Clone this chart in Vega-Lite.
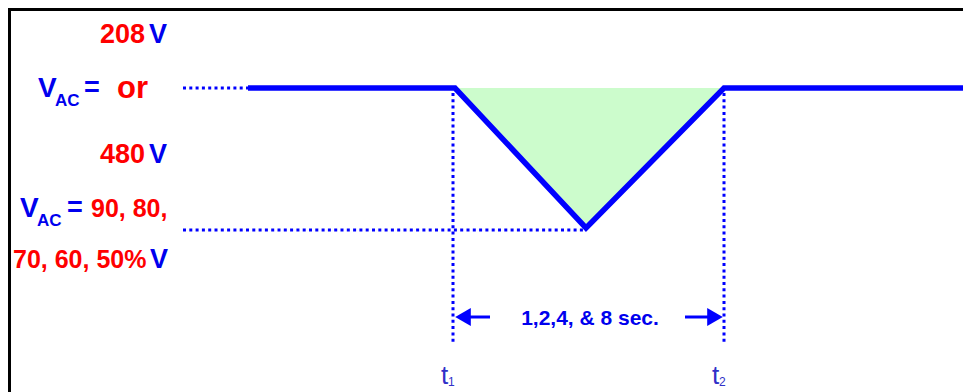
{
  "$schema": "https://vega.github.io/schema/vega-lite/v6.json",
  "width": 963,
  "height": 392,
  "padding": 0,
  "autosize": {"type": "none"},
  "config": {"view": {"stroke": null}},
  "datasets": {
    "frame": [
      {"x": 8, "y": 9.5, "x2": 963, "y2": 9.5},
      {"x": 9.5, "y": 8, "x2": 9.5, "y2": 392}
    ],
    "sag": [
      {"x": 248, "y": 88},
      {"x": 455, "y": 88},
      {"x": 586, "y": 228},
      {"x": 724, "y": 88},
      {"x": 963, "y": 88}
    ],
    "fill": [
      {"x": 455, "y": 88, "y2": 88},
      {"x": 586, "y": 228, "y2": 88},
      {"x": 724, "y": 88, "y2": 88}
    ],
    "dots": [
      {"x": 183, "y": 88, "x2": 248, "y2": 88},
      {"x": 183, "y": 230, "x2": 586, "y2": 230},
      {"x": 453, "y": 93, "x2": 453, "y2": 345},
      {"x": 724, "y": 93, "x2": 724, "y2": 345}
    ],
    "shafts": [
      {"x": 463, "y": 317, "x2": 490, "y2": 317},
      {"x": 685, "y": 317, "x2": 715, "y2": 317}
    ],
    "heads": [
      {"x": 463, "y": 317, "shape": "triangle-left"},
      {"x": 715, "y": 317, "shape": "triangle-right"}
    ],
    "labels": [
      {"x": 100, "y": 43, "t": "208", "c": "#ff0000", "s": 27},
      {"x": 149, "y": 43, "t": "V", "c": "#0000ee", "s": 27},
      {"x": 38, "y": 97, "t": "V", "c": "#0000ee", "s": 28},
      {"x": 55, "y": 106, "t": "AC", "c": "#0000ee", "s": 17},
      {"x": 84, "y": 96, "t": "=", "c": "#0000ee", "s": 27},
      {"x": 117, "y": 98, "t": "or", "c": "#ff0000", "s": 31},
      {"x": 100, "y": 163, "t": "480", "c": "#ff0000", "s": 27},
      {"x": 149, "y": 163, "t": "V", "c": "#0000ee", "s": 27},
      {"x": 20, "y": 217, "t": "V", "c": "#0000ee", "s": 28},
      {"x": 37, "y": 226, "t": "AC", "c": "#0000ee", "s": 17},
      {"x": 67, "y": 216, "t": "=", "c": "#0000ee", "s": 27},
      {"x": 91, "y": 217, "t": "90, 80,", "c": "#ff0000", "s": 25},
      {"x": 13, "y": 268, "t": "70, 60, 50%", "c": "#ff0000", "s": 25},
      {"x": 150, "y": 268, "t": "V", "c": "#0000ee", "s": 27}
    ],
    "duration": [
      {"x": 590, "y": 325, "t": "1,2,4, & 8 sec."}
    ],
    "times": [
      {"x": 441, "y": 384, "t": "t", "s": 26},
      {"x": 448, "y": 386, "t": "1", "s": 12},
      {"x": 712, "y": 384, "t": "t", "s": 26},
      {"x": 719, "y": 386, "t": "2", "s": 12}
    ]
  },
  "encoding": {
    "x": {"field": "x", "type": "quantitative", "scale": {"domain": [0, 963], "nice": false, "zero": false}, "axis": null},
    "y": {"field": "y", "type": "quantitative", "scale": {"domain": [0, 392], "nice": false, "zero": false, "reverse": true}, "axis": null}
  },
  "layer": [
    {
      "data": {"name": "fill"},
      "mark": {"type": "area", "color": "#ccfccc", "opacity": 1},
      "encoding": {"y2": {"field": "y2"}}
    },
    {
      "data": {"name": "dots"},
      "mark": {"type": "rule", "color": "#0000ff", "strokeWidth": 3, "strokeDash": [3, 3.3]},
      "encoding": {"x2": {"field": "x2"}, "y2": {"field": "y2"}}
    },
    {
      "data": {"name": "sag"},
      "mark": {"type": "line", "color": "#0000ff", "strokeWidth": 5.5, "strokeJoin": "miter"},
      "encoding": {}
    },
    {
      "data": {"name": "shafts"},
      "mark": {"type": "rule", "color": "#0000ff", "strokeWidth": 3},
      "encoding": {"x2": {"field": "x2"}, "y2": {"field": "y2"}}
    },
    {
      "data": {"name": "heads"},
      "mark": {"type": "point", "filled": true, "color": "#0000ff", "opacity": 1, "size": 324},
      "encoding": {"shape": {"field": "shape", "type": "nominal", "scale": null}}
    },
    {
      "data": {"name": "labels"},
      "mark": {"type": "text", "align": "left", "baseline": "alphabetic", "font": "Liberation Sans", "fontWeight": "bold"},
      "encoding": {
        "text": {"field": "t"},
        "color": {"field": "c", "type": "nominal", "scale": null},
        "size": {"field": "s", "type": "quantitative", "scale": null}
      }
    },
    {
      "data": {"name": "duration"},
      "mark": {"type": "text", "align": "center", "baseline": "alphabetic", "font": "Liberation Sans", "fontWeight": "bold", "fontSize": 21, "color": "#0000ee"},
      "encoding": {"text": {"field": "t"}}
    },
    {
      "data": {"name": "times"},
      "mark": {"type": "text", "align": "left", "baseline": "alphabetic", "font": "Liberation Sans", "color": "#3030c8"},
      "encoding": {
        "text": {"field": "t"},
        "size": {"field": "s", "type": "quantitative", "scale": null}
      }
    },
    {
      "data": {"name": "frame"},
      "mark": {"type": "rule", "color": "#000000", "strokeWidth": 3},
      "encoding": {"x2": {"field": "x2"}, "y2": {"field": "y2"}}
    }
  ]
}
